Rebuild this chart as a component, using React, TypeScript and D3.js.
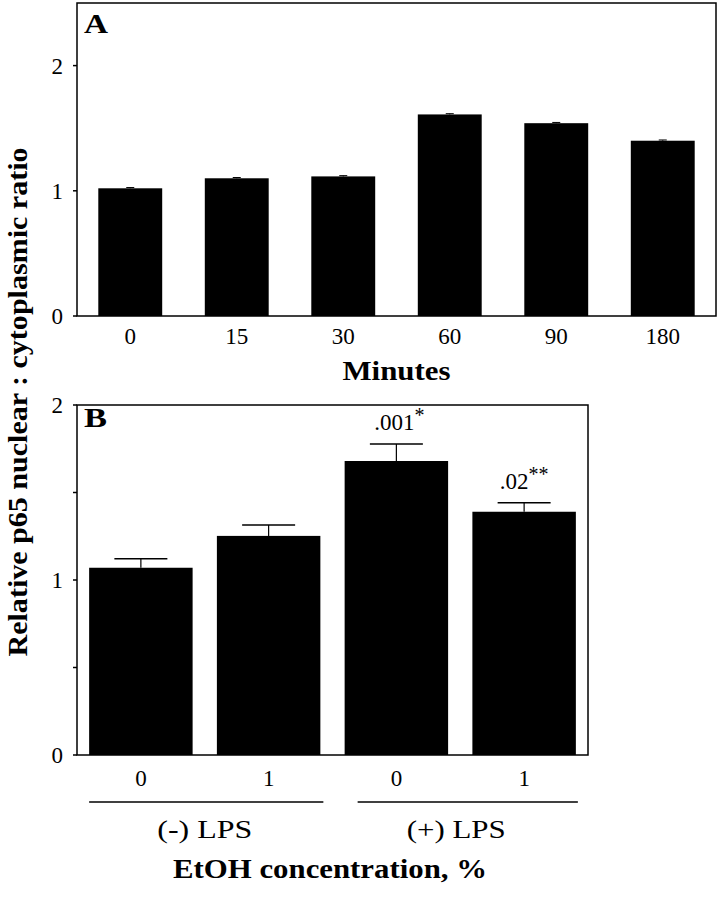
import React from "react";
import * as d3 from "d3";

const minutes = ["0", "15", "30", "60", "90", "180"];
const ratioA = [1.02, 1.1, 1.115, 1.61, 1.54, 1.4];
const errA = [0.006, 0.006, 0.006, 0.006, 0.006, 0.006];

const ethanol = ["0", "1", "0", "1"];
const groupsB = ["(-) LPS", "(+) LPS"];
const ratioB = [1.07, 1.252, 1.68, 1.39];
const errB = [0.052, 0.063, 0.097, 0.051];
const pLabels = ["", "", ".001", ".02"];
const pStars = ["", "", "*", "**"];

const ticksA = [0, 1, 2];
const ticksB = [0, 0.5, 1, 1.5, 2];

const FONT = "'Liberation Serif', 'Times New Roman', serif";

export default function App() {
  const xA = d3.scaleBand<string>().domain(minutes.map((m, i) => i + "")).range([77, 716]).paddingInner(0.4).paddingOuter(0.2);
  const yA = d3.scaleLinear().domain([0, 2.5]).range([316, 3]);
  const bwA = xA.bandwidth();

  const xB = d3.scaleBand<string>().domain(ethanol.map((m, i) => i + "")).range([77, 588]).paddingInner(0.19).paddingOuter(0.095);
  const yB = d3.scaleLinear().domain([0, 2]).range([755, 405]);
  const bwB = xB.bandwidth();

  const capA = 8;
  const capB = 53;
  const TICK = 23;

  return (
    <svg width={721} height={899} style={{ position: "absolute", left: 0, top: 0, background: "#fff" }} fontFamily={FONT}>
      <rect width={721} height={899} fill="#fff" />
      <g>
        {ratioA.map((v, i) => {
          const x = xA(i + "")!;
          const cx = x + bwA / 2;
          return (
            <g key={i}>
              <rect x={x} y={yA(v)} width={bwA} height={yA(0) - yA(v)} fill="#000" />
              <line x1={cx} x2={cx} y1={yA(v)} y2={yA(v + errA[i])} stroke="#000" strokeWidth={1} />
              <line x1={cx - capA / 2} x2={cx + capA / 2} y1={yA(v + errA[i])} y2={yA(v + errA[i])} stroke="#000" strokeWidth={1} />
              <text x={cx} y={344} textAnchor="middle" fontSize={TICK}>{minutes[i]}</text>
            </g>
          );
        })}
        <rect x={77} y={yA(2.5)} width={716 - 77} height={yA(0) - yA(2.5)} fill="none" stroke="#000" strokeWidth={1.5} />
        {ticksA.map((t) => (
          <g key={t}>
            <line x1={73} x2={77} y1={yA(t)} y2={yA(t)} stroke="#000" strokeWidth={1.5} />
            <text x={63} y={yA(t) + 8} textAnchor="end" fontSize={TICK}>{t}</text>
          </g>
        ))}
        <text x={84} y={33} fontSize={27} fontWeight="bold" textLength={24} lengthAdjust="spacingAndGlyphs">A</text>
        <text x={(77 + 716) / 2} y={380} textAnchor="middle" fontSize={27} fontWeight="bold" textLength={108} lengthAdjust="spacingAndGlyphs">Minutes</text>
      </g>

      <g>
        {ratioB.map((v, i) => {
          const x = xB(i + "")!;
          const cx = x + bwB / 2;
          const top = yB(v + errB[i]);
          return (
            <g key={i}>
              <rect x={x} y={yB(v)} width={bwB} height={yB(0) - yB(v)} fill="#000" />
              <line x1={cx} x2={cx} y1={yB(v)} y2={top} stroke="#000" strokeWidth={1.2} />
              <line x1={cx - capB / 2} x2={cx + capB / 2} y1={top} y2={top} stroke="#000" strokeWidth={1.5} />
              {pLabels[i] && (
                <text x={cx + (i === 3 ? 0 : 3)} y={top - 14} textAnchor="middle" fontSize={TICK}>
                  {pLabels[i]}
                  <tspan fontSize={20} dy={-8}>{pStars[i]}</tspan>
                </text>
              )}
              <text x={cx} y={786} textAnchor="middle" fontSize={TICK}>{ethanol[i]}</text>
            </g>
          );
        })}
        <rect x={77} y={yB(2)} width={588 - 77} height={yB(0) - yB(2)} fill="none" stroke="#000" strokeWidth={1.5} />
        {ticksB.map((t) => (
          <g key={t}>
            <line x1={73} x2={77} y1={yB(t)} y2={yB(t)} stroke="#000" strokeWidth={1.5} />
            {Number.isInteger(t) && (
              <text x={63} y={yB(t) + 8} textAnchor="end" fontSize={TICK}>{t}</text>
            )}
          </g>
        ))}
        <text x={84} y={427} fontSize={27} fontWeight="bold" textLength={23} lengthAdjust="spacingAndGlyphs">B</text>

        {groupsB.map((g, gi) => {
          const a = xB(gi * 2 + "")!;
          const b = xB(gi * 2 + 1 + "")! + bwB;
          const x1 = gi === 0 ? a : a + 13;
          const x2 = gi === 0 ? b + 3 : b + 2;
          const mid = (a + b) / 2 - (gi === 0 ? 0 : 4);
          return (
            <g key={g}>
              <line x1={x1} x2={x2} y1={802} y2={802} stroke="#000" strokeWidth={1.5} />
              <text x={mid} y={838} textAnchor="middle" fontSize={26} textLength={gi === 0 ? 95 : 99} lengthAdjust="spacingAndGlyphs">{g}</text>
            </g>
          );
        })}
        <text x={330} y={878} textAnchor="middle" fontSize={27} fontWeight="bold" textLength={314} lengthAdjust="spacingAndGlyphs">EtOH concentration, %</text>
      </g>

      <text transform="translate(27,402) rotate(-90)" textAnchor="middle" fontSize={27} fontWeight="bold" textLength={509} lengthAdjust="spacingAndGlyphs">Relative p65 nuclear : cytoplasmic ratio</text>
    </svg>
  );
}
